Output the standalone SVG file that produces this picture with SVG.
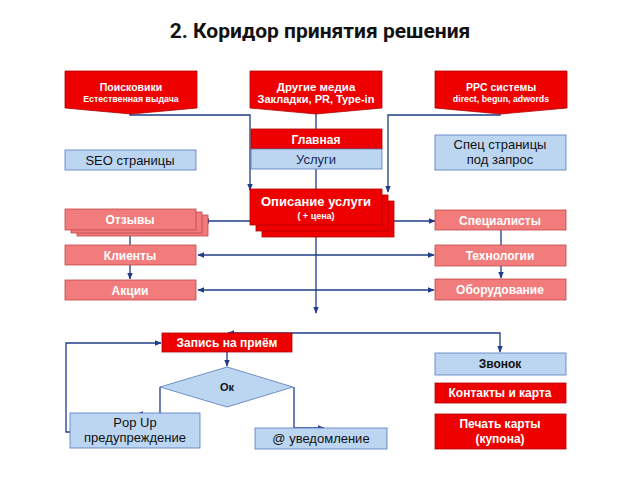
<svg xmlns="http://www.w3.org/2000/svg" width="640" height="480" viewBox="0 0 640 480">
<defs>
<marker id="ah" viewBox="0 0 10 10" refX="9" refY="5" markerWidth="7" markerHeight="7" orient="auto-start-reverse" markerUnits="userSpaceOnUse">
<path d="M0,1 L10,5 L0,9 z" fill="#1f3c88"/>
</marker>
<style>
text{font-family:"Liberation Sans",Arial,sans-serif;text-anchor:middle}
.red{fill:#ee0000;stroke:#b00000;stroke-width:0.8}
.pink{fill:#f27b7b;stroke:#c04848;stroke-width:0.8}
.blue{fill:#bcd6f2;stroke:#5577bb;stroke-width:0.8}
.w{fill:#fff;font-weight:bold}
.k{fill:#111;font-size:13px}
.c{fill:none;stroke:#1f3c88;stroke-width:1.3}
.ca{fill:none;stroke:#1f3c88;stroke-width:1.3;marker-end:url(#ah)}
.cb{fill:none;stroke:#1f3c88;stroke-width:1.3;marker-end:url(#ah);marker-start:url(#ah)}
</style>
</defs>
<rect width="640" height="480" fill="#fff"/>
<text x="320" y="38" style="font-family:Roboto,'Liberation Sans',sans-serif;font-weight:bold;font-size:21px;fill:#111">2. Коридор принятия решения</text>

<g id="connectors">
<polyline class="ca" points="130,114 130,115 250,115 250,190"/>
<polyline class="ca" points="500,114 500,115 388,115 388,192"/>
<line class="c" x1="316" y1="112" x2="316" y2="129"/>
<line class="c" x1="316" y1="169" x2="316" y2="189"/>
<line class="ca" x1="250" y1="221" x2="203" y2="221"/>
<line class="ca" x1="382" y1="221" x2="435" y2="221"/>
<line class="ca" x1="316" y1="237" x2="316" y2="313"/>
<line class="cb" x1="198" y1="255" x2="434" y2="255"/>
<line class="cb" x1="198" y1="290" x2="434" y2="290"/>
<line class="c" x1="130" y1="236" x2="130" y2="245"/>
<line class="ca" x1="130" y1="265" x2="130" y2="279"/>
<line class="c" x1="501" y1="230" x2="501" y2="245"/>
<line class="ca" x1="501" y1="266" x2="501" y2="278"/>
<polyline class="cb" points="228,333 500,333 500,352"/>
<polyline class="ca" points="70,432 66,432 66,343 161,343"/>
<line class="ca" x1="227" y1="352" x2="227" y2="366"/>
<polyline class="ca" points="160,387 160,414 137,414"/>
<polyline class="ca" points="294,387 294,428 324,428"/>
</g>

<g id="n-search">
<path class="red" d="M65,71 H197 V108 L131,114 L65,108 Z"/>
<text class="w" x="131" y="91" font-size="10.5">Поисковики</text>
<text class="w" x="131" y="102" font-size="8.8">Естественная выдача</text>
</g>
<g id="n-media">
<path class="red" d="M250,71 H382 V108 L316,114 L250,108 Z"/>
<text class="w" x="316" y="91" font-size="11.5">Другие медиа</text>
<text class="w" x="316" y="103" font-size="11">Закладки, PR, Type-in</text>
</g>
<g id="n-ppc">
<path class="red" d="M435,71 H567 V108 L501,114 L435,108 Z"/>
<text class="w" x="501" y="91" font-size="10.5">PPC системы</text>
<text class="w" x="501" y="102" font-size="8.8">direct, begun, adwords</text>
</g>

<g id="n-main">
<rect class="red" x="251" y="129" width="131" height="20"/>
<text class="w" x="316" y="144" font-size="12">Главная</text>
</g>
<g id="n-services">
<rect class="blue" x="251" y="149" width="131" height="20"/>
<text x="316" y="164" font-size="13" fill="#1a2a55">Услуги</text>
</g>
<g id="n-seo">
<rect class="blue" x="65" y="150" width="131" height="20"/>
<text class="k" x="130" y="164.5">SEO страницы</text>
</g>
<g id="n-spec">
<rect class="blue" x="435" y="135" width="131" height="35"/>
<text class="k" x="500" y="149">Спец страницы</text>
<text class="k" x="500" y="164">под запрос</text>
</g>

<g id="n-desc">
<rect class="red" x="262" y="201" width="132" height="36"/>
<rect class="red" x="256" y="195" width="132" height="36"/>
<rect class="red" x="250" y="189" width="132" height="36"/>
<text class="w" x="316" y="206" font-size="13">Описание услуги</text>
<text class="w" x="316" y="219" font-size="9">( + цена)</text>
</g>

<g id="n-reviews">
<rect class="pink" x="77" y="215" width="131" height="21"/>
<rect class="pink" x="71" y="212" width="131" height="21"/>
<rect class="pink" x="65" y="209" width="131" height="21"/>
<text class="w" x="130" y="224" font-size="12">Отзывы</text>
</g>
<g id="n-clients">
<rect class="pink" x="65" y="245" width="131" height="20"/>
<text class="w" x="130" y="260" font-size="12">Клиенты</text>
</g>
<g id="n-promo">
<rect class="pink" x="65" y="280" width="131" height="20"/>
<text class="w" x="130" y="295" font-size="12">Акции</text>
</g>
<g id="n-specialists">
<rect class="pink" x="435" y="210" width="131" height="20"/>
<text class="w" x="500" y="225" font-size="12">Специалисты</text>
</g>
<g id="n-tech">
<rect class="pink" x="435" y="245" width="131" height="21"/>
<text class="w" x="500" y="260" font-size="12">Технологии</text>
</g>
<g id="n-equip">
<rect class="pink" x="435" y="279" width="131" height="21"/>
<text class="w" x="500" y="294" font-size="12">Оборудование</text>
</g>

<g id="n-booking">
<rect class="red" x="162" y="333" width="130" height="19"/>
<text class="w" x="227" y="347" font-size="12">Запись на приём</text>
</g>
<g id="n-ok">
<path class="blue" d="M227,367 L293,387 L227,407 L160,387 Z"/>
<text x="227" y="391" font-size="11" font-weight="bold" fill="#111">Ок</text>
</g>
<g id="n-popup">
<rect class="blue" x="70" y="413" width="130" height="35"/>
<text class="k" x="135" y="427">Pop Up</text>
<text class="k" x="135" y="442">предупреждение</text>
</g>
<g id="n-notify">
<rect class="blue" x="255" y="428" width="132" height="21"/>
<text class="k" x="321" y="443" font-size="12.5">@ уведомление</text>
</g>
<g id="n-call">
<rect class="blue" x="435" y="353" width="131" height="22"/>
<text x="500" y="368" font-size="12" font-weight="bold" fill="#111">Звонок</text>
</g>
<g id="n-contacts">
<rect class="red" x="435" y="383" width="131" height="20"/>
<text class="w" x="500" y="397" font-size="12">Контакты и карта</text>
</g>
<g id="n-print">
<rect class="red" x="435" y="414" width="131" height="35"/>
<text class="w" x="500" y="428" font-size="12">Печать карты</text>
<text class="w" x="500" y="443" font-size="12">(купона)</text>
</g>
</svg>
